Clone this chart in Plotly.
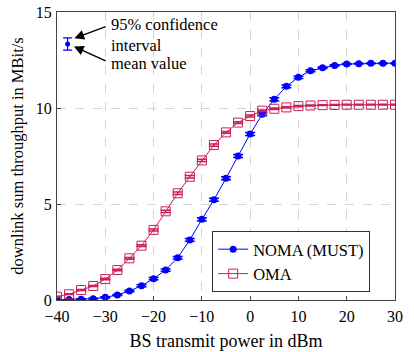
import plotly.graph_objects as go

# ---- data ----
power_dbm = [-40, -37.5, -35, -32.5, -30, -27.5, -25, -22.5, -20, -17.5, -15, -12.5,
             -10, -7.5, -5, -2.5, 0, 2.5, 5, 7.5, 10, 12.5, 15, 17.5, 20, 22.5, 25, 27.5, 30]
noma = [0.02, 0.03, 0.04, 0.07, 0.14, 0.26, 0.47, 0.74, 1.11, 1.56, 2.2, 3.13,
        4.2, 5.22, 6.34, 7.5, 8.65, 9.67, 10.45, 11.13, 11.6, 11.94, 12.1, 12.22,
        12.29, 12.31, 12.33, 12.33, 12.33]
noma_ci = [0.01, 0.01, 0.02, 0.02, 0.03, 0.03, 0.04, 0.05, 0.06, 0.06, 0.07, 0.07,
           0.08, 0.08, 0.08, 0.08, 0.08, 0.08, 0.08, 0.07, 0.06, 0.05, 0.04, 0.03,
           0.03, 0.02, 0.02, 0.02, 0.02]
oma = [0.17, 0.3, 0.52, 0.73, 1.09, 1.56, 2.17, 2.83, 3.65, 4.62, 5.56, 6.42,
       7.27, 8.07, 8.73, 9.24, 9.58, 9.86, 9.96, 10.03, 10.1, 10.13, 10.15, 10.16,
       10.17, 10.17, 10.17, 10.17, 10.17]
oma_ci = [0.02, 0.02, 0.03, 0.03, 0.04, 0.04, 0.05, 0.05, 0.05, 0.06, 0.06, 0.06,
          0.06, 0.06, 0.05, 0.05, 0.05, 0.04, 0.04, 0.03, 0.03, 0.02, 0.02, 0.02,
          0.02, 0.02, 0.02, 0.02, 0.02]
series_names = ["NOMA (MUST)", "OMA"]
x_ticks = [-40, -30, -20, -10, 0, 10, 20, 30]
y_ticks = [0, 5, 10, 15]
# example error bar in the annotation
demo_x = [-37.8]
demo_mean = [13.33]
demo_ci = [0.32]
note_ci = "95% confidence<br>interval"
note_mean = "mean value"

BLUE = "#0000ff"
RED = "#cc1f55"
FONT = "Liberation Serif"

fig = go.Figure()
fig.add_trace(go.Scatter(
    x=power_dbm, y=noma, name=series_names[0], mode="lines+markers",
    line=dict(color=BLUE, width=1),
    marker=dict(symbol="circle", size=7, color=BLUE),
    error_y=dict(type="data", array=noma_ci, color=BLUE, thickness=1.5, width=5),
))
fig.add_trace(go.Scatter(
    x=power_dbm, y=oma, name=series_names[1], mode="lines+markers",
    line=dict(color=RED, width=1),
    marker=dict(symbol="square-open", size=9, color=RED, line=dict(width=1)),
    error_y=dict(type="data", array=oma_ci, color=RED, thickness=1.5, width=5),
))
fig.add_trace(go.Scatter(
    x=demo_x, y=demo_mean, mode="markers", showlegend=False,
    marker=dict(symbol="circle", size=5, color=BLUE),
    error_y=dict(type="data", array=demo_ci, color=BLUE, thickness=1.2, width=4.5),
))

arrow = dict(showarrow=True, arrowhead=2, arrowsize=1.3, arrowwidth=1.5,
             arrowcolor="black", axref="x", ayref="y", text="")
fig.add_annotation(x=-36.4, y=13.63, ax=-29.6, ay=14.27, **arrow)
fig.add_annotation(x=-36.5, y=13.2, ax=-29.6, ay=12.42, **arrow)
note_font = dict(family=FONT, size=16.5, color="black")
fig.add_annotation(x=-29.3, y=13.8, text=note_ci, showarrow=False,
                   xanchor="left", yanchor="middle", align="left", font=note_font)
fig.add_annotation(x=-29.3, y=12.3, text=note_mean, showarrow=False,
                   xanchor="left", yanchor="middle", align="left", font=note_font)

axis_common = dict(
    showline=True, linecolor="#444444", linewidth=1, mirror=True,
    showgrid=True, gridcolor="#d4d4d4", griddash="dash", gridwidth=1,
    zeroline=False, ticks="inside", ticklen=4, tickcolor="#444444",
    tickfont=dict(family=FONT, size=16, color="black"), automargin=False,
)
fig.update_xaxes(range=[-40, 30], tickvals=x_ticks, ticklabelstandoff=2,
                 title=dict(text="BS transmit power in dBm", standoff=10,
                            font=dict(family=FONT, size=18, color="black")),
                 **axis_common)
fig.update_yaxes(range=[0, 15], tickvals=y_ticks, ticklabelstandoff=1,
                 title=dict(text="downlink sum throughput in MBit/s", standoff=8,
                            font=dict(family=FONT, size=16.5, color="black")),
                 **axis_common)

fig.update_layout(
    width=414, height=352,
    margin=dict(l=57, r=19, t=12, b=52),
    plot_bgcolor="white", paper_bgcolor="white",
    font=dict(family=FONT, size=15, color="black"),
    legend=dict(x=0.459, y=0.028, xanchor="left", yanchor="bottom",
                bordercolor="#333333", borderwidth=1, bgcolor="white",
                font=dict(family=FONT, size=16.5), itemwidth=30,
                tracegroupgap=0),
    showlegend=True,
)

fig.write_html("out.html", config={"displayModeBar": False},
               post_script="document.body.style.margin='0';")
